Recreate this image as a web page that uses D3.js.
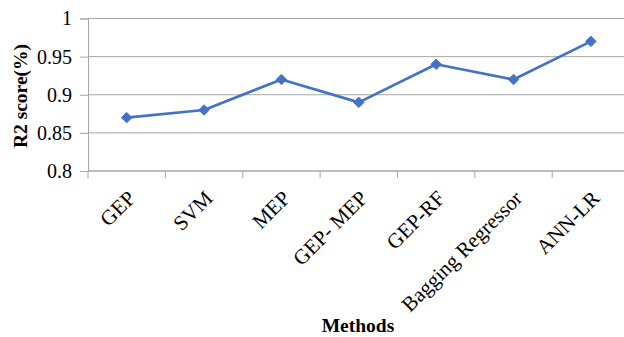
<!DOCTYPE html>
<html>
<head>
<meta charset="utf-8">
<script src="https://cdn.jsdelivr.net/npm/d3@7"></script>
<style>
  html, body { margin: 0; padding: 0; background: #fff; }
  svg { display: block; }
  svg text { font-family: "Liberation Serif", "Times New Roman", serif; fill: #000; }
</style>
</head>
<body>
<svg id="chart" width="624" height="337"></svg>
<script>
// Methods compared and their R2 scores
const methods = ["GEP", "SVM", "MEP", "GEP- MEP", "GEP-RF", "Bagging Regressor", "ANN-LR"];
const r2Scores = [0.87, 0.88, 0.92, 0.89, 0.94, 0.92, 0.97];
const yTicks = [0.8, 0.85, 0.9, 0.95, 1];
const yTickLabels = ["0.8", "0.85", "0.9", "0.95", "1"];

const svg = d3.select("#chart");
const margin = { left: 88, top: 18.5, right: -5.6, bottom: 166 };
const width = 624 - margin.left - margin.right;
const height = 337 - margin.top - margin.bottom;

const g = svg.append("g").attr("transform", `translate(${margin.left},${margin.top})`);

const x = d3.scaleBand().domain(methods).range([0, width]);
const y = d3.scaleLinear().domain([0.8, 1]).range([height, 0]);

// horizontal gridlines
g.selectAll(".grid").data(yTicks.slice(1)).join("line")
  .attr("x1", 0).attr("x2", width)
  .attr("y1", d => y(d)).attr("y2", d => y(d))
  .attr("stroke", "#a6a6a6").attr("stroke-width", 1);

// y axis
const yAxis = g.append("g")
  .call(d3.axisLeft(y).tickValues(yTicks).tickSize(8).tickPadding(8)
    .tickFormat((d, i) => yTickLabels[i]));
yAxis.select(".domain").attr("stroke", "#a6a6a6");
yAxis.selectAll(".tick line").attr("stroke", "#a6a6a6");
yAxis.selectAll(".tick text")
  .style("font-size", "20px")
  .style("font-family", "'Liberation Serif', serif")
  .attr("fill", "#000");

// x axis with ticks on band boundaries
const xAxisG = g.append("g").attr("transform", `translate(0,${height})`);
xAxisG.append("line").attr("x1", 0).attr("x2", width)
  .attr("stroke", "#a6a6a6").attr("stroke-width", 1.5);
const bounds = methods.map(m => x(m)).concat([width]);
xAxisG.selectAll(".xt").data(bounds).join("line")
  .attr("x1", d => d).attr("x2", d => d)
  .attr("y1", 0).attr("y2", 7)
  .attr("stroke", "#a6a6a6");

// rotated category labels
xAxisG.selectAll(".xl").data(methods).join("text")
  .attr("transform", d => `translate(${x(d) + x.bandwidth() / 2 + 10},${28.5}) rotate(-45)`)
  .attr("text-anchor", "end")
  .style("font-size", "21px")
  .text(d => d);

// series line
const line = d3.line()
  .x((d, i) => x(methods[i]) + x.bandwidth() / 2)
  .y(d => y(d));
g.append("path").datum(r2Scores)
  .attr("d", line)
  .attr("fill", "none")
  .attr("stroke", "#4472c4")
  .attr("stroke-width", 2.75)
  .attr("stroke-linejoin", "round");

// diamond markers
g.selectAll(".pt").data(r2Scores).join("path")
  .attr("transform", (d, i) => `translate(${x(methods[i]) + x.bandwidth() / 2},${y(d)})`)
  .attr("d", d3.symbol(d3.symbolDiamond2, 70)())
  .attr("fill", "#4472c4")
  .attr("stroke", "#4472c4")
  .attr("stroke-width", 1);

// axis titles
svg.append("text")
  .attr("x", 358).attr("y", 332)
  .attr("text-anchor", "middle")
  .style("font-size", "19.5px").style("font-weight", "bold")
  .text("Methods");

svg.append("text")
  .attr("transform", `translate(27,${96}) rotate(-90)`)
  .attr("text-anchor", "middle")
  .style("font-size", "19.5px").style("font-weight", "bold")
  .text("R2 score(%)");
</script>
</body>
</html>
